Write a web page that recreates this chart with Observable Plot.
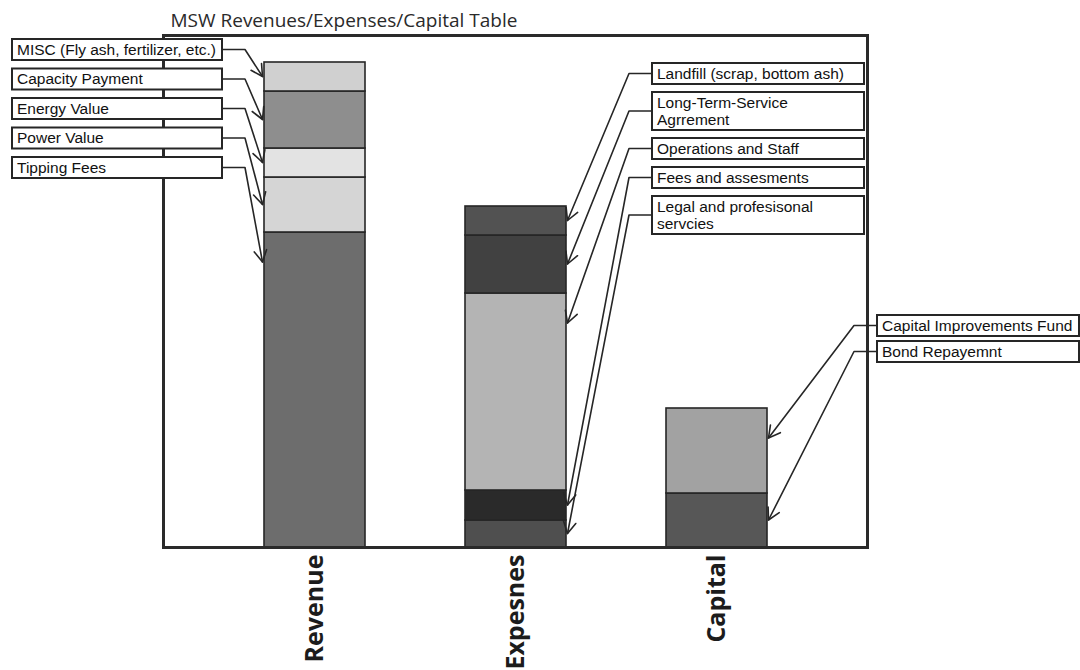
<!DOCTYPE html>
<html><head><meta charset="utf-8">
<script src="https://cdn.jsdelivr.net/npm/d3@7"></script>
<script src="https://cdn.jsdelivr.net/npm/@observablehq/plot@0.6"></script>
<style>
html,body{margin:0;padding:0;background:#fff;}
#chart svg{display:block;}
</style></head><body><div id="chart"></div>
<script>
// ---- data (arbitrary units, stacked bottom -> top) ----
const title = "MSW Revenues/Expenses/Capital Table";
const categories = ["Revenue", "Expesnes", "Capital"];

const revenueSeries = ["Tipping Fees", "Power Value", "Energy Value", "Capacity Payment", "MISC (Fly ash, fertilizer, etc.)"];
const revenueValues = [63, 11, 5.8, 11.4, 5.8];

const expenseSeries = ["Legal and profesisonal servcies", "Fees and assesments", "Operations and Staff", "Long-Term-Service Agrrement", "Landfill (scrap, bottom ash)"];
const expenseValues = [5.4, 6, 39.4, 11.6, 5.8];

const capitalSeries = ["Bond Repayemnt", "Capital Improvements Fund"];
const capitalValues = [10.8, 17];

// ---- styles (kept apart from the data) ----
const revenueShades = ["#6d6d6d", "#d5d5d5", "#e3e3e3", "#8e8e8e", "#d0d0d0"];
const expenseShades = ["#4f4f4f", "#2a2a2a", "#b4b4b4", "#414141", "#525252"];
const capitalShades = ["#575757", "#a2a2a2"];
const ink = "#262626";

// ---- table built from the arrays ----
const groups = [
  {category: categories[0], series: revenueSeries, values: revenueValues},
  {category: categories[1], series: expenseSeries, values: expenseValues},
  {category: categories[2], series: capitalSeries, values: capitalValues}
];
const rows = groups.flatMap(g => g.series.map((s, i) => ({category: g.category, series: s, value: g.values[i]})));
const allSeries = [...revenueSeries, ...expenseSeries, ...capitalSeries];
const allShades = [...revenueShades, ...expenseShades, ...capitalShades];

// ---- callout layout (annotation placement, pixels) ----
const calloutLayout = [
  {side: "left",  boxX: 12,  boxW: 210, firstTop: 39,  gap: 8.5},
  {side: "right", boxX: 652, boxW: 212, firstTop: 63,  gap: 8},
  {side: "right", boxX: 877, boxW: 202, firstTop: 315, gap: 5}
];
const labelFont = 15.5, wrapAt = 204, stub = 23;

const ctx = document.createElement("canvas").getContext("2d");
ctx.font = `${labelFont}px "Liberation Sans", Arial, sans-serif`;
function wrap(text) {
  const words = text.split(" "); const lines = []; let cur = "";
  for (const w of words) {
    const t = cur ? cur + " " + w : w;
    if (cur && ctx.measureText(t).width > wrapAt) { lines.push(cur); cur = w; } else cur = t;
  }
  lines.push(cur); return lines;
}

function callouts(index, scales) {
  const {x, y} = scales;
  const bw = x.bandwidth();
  const g = d3.create("svg:g")
    .attr("font-family", "'Liberation Sans', Arial, sans-serif")
    .attr("font-size", labelFont).attr("fill", "#111").attr("text-anchor", "start");
  const lines = g.append("g").attr("stroke", ink).attr("stroke-width", 1.6).attr("fill", "none")
    .attr("stroke-linecap", "round").attr("stroke-linejoin", "round");
  const boxes = g.append("g");
  groups.forEach((grp, gi) => {
    const L = calloutLayout[gi];
    let acc = 0;
    const segs = grp.values.map((v, i) => { const s = {name: grp.series[i], lo: acc, hi: acc + v}; acc += v; return s; });
    const order = segs.slice().reverse(); // top -> bottom
    let top = L.firstTop;
    order.forEach(seg => {
      const txt = wrap(seg.name);
      const h = txt.length === 1 ? 21 : 38;
      const yTop = y(seg.hi), yBot = y(seg.lo);
      const tipY = Math.min((yTop + yBot) / 2, yTop + 30);
      const tipX = L.side === "left" ? x(grp.category) - 1.5 : x(grp.category) + bw + 1.5;
      const cy = top + h / 2;
      const edgeX = L.side === "left" ? L.boxX + L.boxW : L.boxX;
      const knee = L.side === "left" ? edgeX + stub : edgeX - stub;
      lines.append("path").attr("d", `M${edgeX},${cy}H${knee}L${tipX},${tipY}`);
      const ang = Math.atan2(tipY - cy, tipX - knee);
      const hl = 13, ha = 0.5;
      const p1 = [tipX - hl * Math.cos(ang - ha), tipY - hl * Math.sin(ang - ha)];
      const p2 = [tipX - hl * Math.cos(ang + ha), tipY - hl * Math.sin(ang + ha)];
      lines.append("path").attr("d", `M${p1}L${tipX},${tipY}L${p2}`);
      boxes.append("rect").attr("x", L.boxX).attr("y", top).attr("width", L.boxW).attr("height", h)
        .attr("fill", "#fff").attr("stroke", ink).attr("stroke-width", 2);
      txt.forEach((t, k) => boxes.append("text").attr("x", L.boxX + 5).attr("y", top + 15.5 + k * 17.5).text(t));
      top += h + L.gap;
    });
  });
  return g.node();
}

const chart = Plot.plot({
  width: 1080, height: 670,
  marginTop: 35, marginRight: 213, marginBottom: 123, marginLeft: 163,
  style: {background: "#fff"},
  x: {domain: categories, paddingInner: 0.5, paddingOuter: 0.5, label: null},
  y: {domain: [0, 102.4], axis: null},
  color: {domain: allSeries, range: allShades},
  marks: [
    Plot.barY(rows, {x: "category", y: "value", fill: "series", stroke: ink, strokeWidth: 1.6}),
    Plot.frame({stroke: "#2a2a2a", strokeWidth: 3}),
    Plot.axisX({tickSize: 0, tickPadding: 7, tickRotate: -90, fontSize: 25, fontWeight: "bold",
                fontFamily: "'Open Sans', sans-serif", fill: "#1c1c1c", label: null}),
    Plot.text([title], {frameAnchor: "top-left", dx: 7, dy: -9, textAnchor: "start", lineAnchor: "bottom",
                        fontSize: 19, fontFamily: "'Open Sans', sans-serif", fill: "#2a2a2a"}),
    callouts
  ]
});
document.getElementById("chart").append(chart);
</script></body></html>
